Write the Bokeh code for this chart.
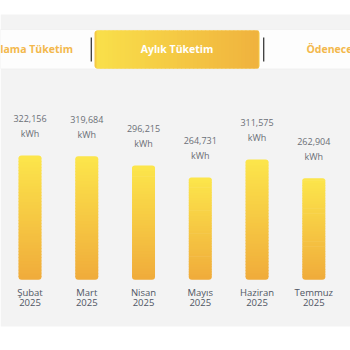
from bokeh.plotting import figure
from bokeh.models import Range1d, ColumnDataSource
from bokeh.core.properties import value
from bokeh.embed import file_html
from bokeh.resources import INLINE

# ---- data ----
months = ["Şubat", "Mart", "Nisan", "Mayıs", "Haziran", "Temmuz"]
years = ["2025", "2025", "2025", "2025", "2025", "2025"]
consumption = [322156, 319684, 296215, 264731, 311575, 262904]
unit = "kWh"
tabs = ["Ortalama Tüketim", "Aylık Tüketim", "Ödenecek Tutar"]

FONT = "Open Sans"


def lerp_color(c1, c2, t):
    a = [int(c1[i:i + 2], 16) for i in (1, 3, 5)]
    b = [int(c2[i:i + 2], 16) for i in (1, 3, 5)]
    return "#%02x%02x%02x" % tuple(round(a[k] + (b[k] - a[k]) * t) for k in range(3))


p = figure(width=350, height=350, output_backend="svg", toolbar_location=None,
           x_range=Range1d(-0.5197, 5.6466), y_range=Range1d(-183113, 723387),
           min_border=0, min_border_left=0, min_border_right=0,
           min_border_top=0, min_border_bottom=0)
p.axis.visible = False
p.grid.visible = False
p.outline_line_color = None
p.background_fill_color = "#ffffff"
p.border_fill_color = "#ffffff"

# pixel ranges for page decorations
p.extra_x_ranges = {"px": Range1d(0, 350)}
p.extra_y_ranges = {"px": Range1d(350, 0)}
deco = dict(x_range_name="px", y_range_name="px")

# gray panel
p.quad(left=0, right=350, top=14, bottom=326, fill_color="#f3f3f3", line_color=None, **deco)
# white tab strip
p.quad(left=0, right=350, top=29, bottom=68.5, fill_color="#fdfdfd", line_color="#ececec",
       line_width=0.6, **deco)

# active tab gradient
tl, tr = 94.0, 259.0
p.quad(left=tl, right=tr, top=30, bottom=68, fill_color="#f5c943", line_color=None,
       border_radius=3, **deco)
ns = 40
sw = (tr - tl - 4) / ns
p.quad(left=[tl + 2 + i * sw for i in range(ns)],
       right=[tl + 2 + (i + 1) * sw + 1.0 for i in range(ns)],
       top=30, bottom=68,
       fill_color=[lerp_color("#f9df4a", "#f0b33e", i / (ns - 1)) for i in range(ns)],
       line_color=None, **deco)

# separators
p.segment(x0=[90.8, 263.2], x1=[90.8, 263.2], y0=[37, 37], y1=[61, 61],
          line_color="#3a3a3a", line_width=1.3, **deco)

# tab texts
p.text(x=[72.5], y=[48.5], text=[tabs[0]], text_align="right", text_baseline="middle",
       text_font=value(FONT), text_font_style="bold", text_font_size="10.5px",
       text_color="#f3b84c", **deco)
p.text(x=[176.5], y=[48.5], text=[tabs[1]], text_align="center", text_baseline="middle",
       text_font=value(FONT), text_font_style="bold", text_font_size="10.5px",
       text_color="#ffffff", **deco)
p.text(x=[306], y=[48.5], text=[tabs[2]], text_align="left", text_baseline="middle",
       text_font=value(FONT), text_font_style="bold", text_font_size="10.5px",
       text_color="#f3b84c", **deco)

# bars with vertical gradient (segments)
N = 40
top_c, bot_c = "#fce54b", "#f0ac3b"
xs = list(range(len(months)))
seg = {"x": [], "b": [], "t": [], "c": []}
segT = {"x": [], "b": [], "t": [], "c": []}
segB = {"x": [], "b": [], "t": [], "c": []}
for i, v in zip(xs, consumption):
    for k in range(N):
        b = v * k / N
        t = v * (k + 1) / N
        c = lerp_color(bot_c, top_c, k / (N - 1))
        d = segB if k == 0 else (segT if k == N - 1 else seg)
        d["x"].append(i)
        d["b"].append(b)
        d["t"].append(t if k == N - 1 else t + v * 0.006)
        d["c"].append(c)

W = 0.405
p.vbar(x="x", bottom="b", top="t", width=W, fill_color="c", line_color=None,
       source=ColumnDataSource(seg))
p.vbar(x="x", bottom="b", top="t", width=W, fill_color="c", line_color=None,
       border_radius=(3, 3, 0, 0), source=ColumnDataSource(segT))
p.vbar(x="x", bottom="b", top="t", width=W, fill_color="c", line_color=None,
       border_radius=(0, 0, 3, 3), source=ColumnDataSource(segB))

# value labels
p.text(x=xs, y=consumption, text=[f"{v:,}" for v in consumption], y_offset=-37,
       text_align="center", text_baseline="middle", text_font=value(FONT),
       text_font_size="9px", text_color="#6b6f76")
p.text(x=xs, y=consumption, text=[unit] * len(xs), y_offset=-22,
       text_align="center", text_baseline="middle", text_font=value(FONT),
       text_font_size="9px", text_color="#6b6f76")

# month labels
zeros = [0] * len(xs)
p.text(x=xs, y=zeros, text=months, y_offset=12.5, text_align="center", text_baseline="middle",
       text_font=value(FONT), text_font_size="9.5px", text_color="#4f5663")
p.text(x=xs, y=zeros, text=years, y_offset=23, text_align="center", text_baseline="middle",
       text_font=value(FONT), text_font_size="9.5px", text_color="#4f5663")

open("out.html", "w").write(file_html(p, INLINE))
